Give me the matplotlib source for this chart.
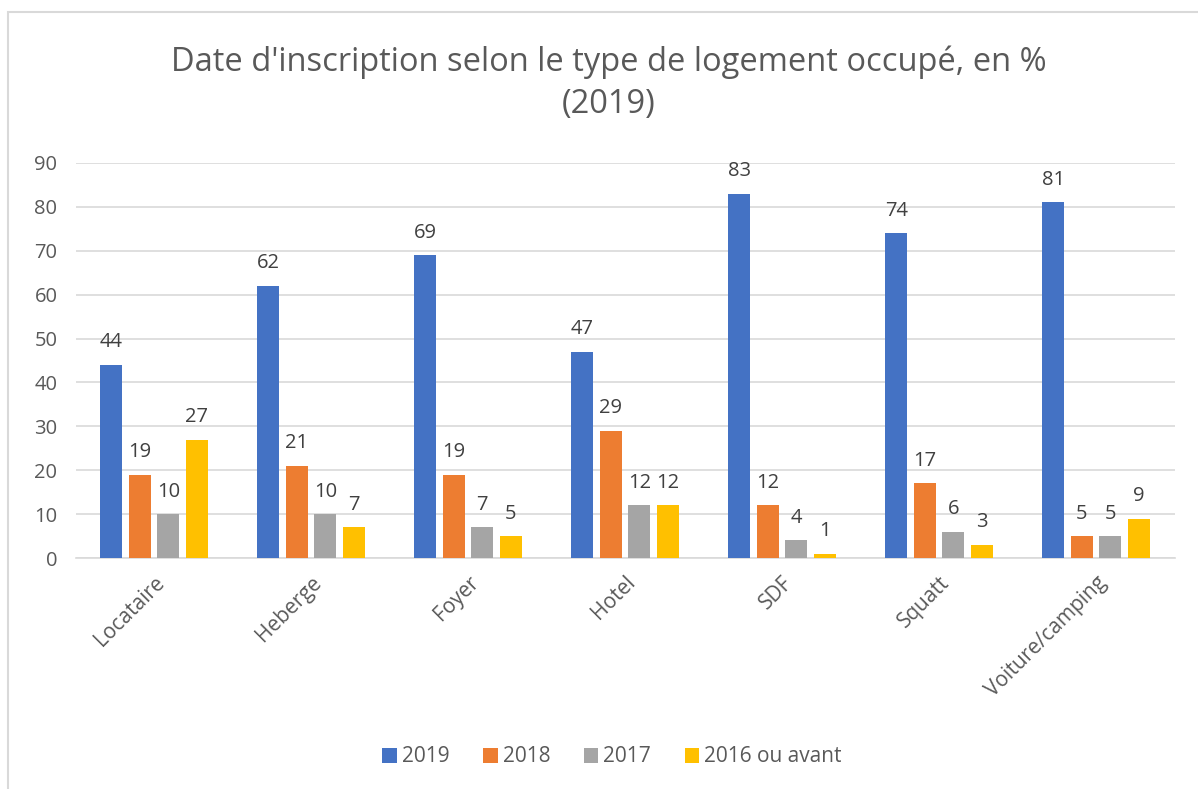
import matplotlib
matplotlib.use("Agg")
import matplotlib.pyplot as plt
from matplotlib.patches import Rectangle
import numpy as np

categories = ["Locataire", "Heberge", "Foyer", "Hotel", "SDF", "Squatt", "Voiture/camping"]
series_names = ["2019", "2018", "2017", "2016 ou avant"]
v2019 = [44, 62, 69, 47, 83, 74, 81]
v2018 = [19, 21, 19, 29, 12, 17, 5]
v2017 = [10, 10, 7, 12, 4, 6, 5]
v2016 = [27, 7, 5, 12, 1, 3, 9]
colors = ["#4472C4", "#ED7D31", "#A5A5A5", "#FFC000"]
title = "Date d'inscription selon le type de logement occupé, en %\n(2019)"

plt.rcParams['font.family'] = ['Open Sans', 'DejaVu Sans']
txt = "#595959"

W, H = 1198, 789
fig = plt.figure(figsize=(W/100, H/100), dpi=100)
ax = fig.add_axes([75.5/W, 1-558/H, 1099/W, 395/H])

x = np.arange(len(categories))
step = 0.182
bw = 0.14
allv = [v2019, v2018, v2017, v2016]
for i, (vals, c, n) in enumerate(zip(allv, colors, series_names)):
    pos = x + (i - 1.5) * step
    ax.bar(pos, vals, width=bw, color=c, label=n, zorder=3)
    for p, v in zip(pos, vals):
        ax.annotate(str(v), (p, v), xytext=(0, 9), textcoords="offset points",
                    ha="center", va="bottom", fontsize=14.5, color="#404040")

ax.set_xlim(-0.5, len(categories) - 0.5)
ax.set_ylim(0, 90)
ax.set_yticks(range(0, 91, 10))
ax.grid(axis="y", color="#D9D9D9", linewidth=1.2, zorder=0)
for s in ["top", "right", "left"]:
    ax.spines[s].set_visible(False)
ax.spines["bottom"].set_color("#D9D9D9")
ax.spines["bottom"].set_linewidth(1.2)
ax.tick_params(axis="both", length=0, labelsize=14.5, colors=txt)
ax.tick_params(axis="y", pad=13)
ax.set_xticks(x)
ax.set_xticklabels(categories, rotation=45, ha="right", rotation_mode="anchor", fontsize=15)
ax.tick_params(axis="x", pad=10)

fig.text(0.508, 1-83/H, title, ha="center", va="center", fontsize=23.5, color=txt, linespacing=1.35)

fig.legend(loc="center", bbox_to_anchor=(612/W, 1-757/H), ncol=4, frameon=False,
           fontsize=15, handlelength=0.7, handleheight=0.7, handletextpad=0.25,
           columnspacing=1.6, labelcolor=txt)

fig.patches.append(Rectangle((8/W, -0.1), 1.2, 1-12/H+0.1, transform=fig.transFigure,
                             fill=False, edgecolor="#D9D9D9", linewidth=1.5))

fig.savefig("out.png", dpi=100)
